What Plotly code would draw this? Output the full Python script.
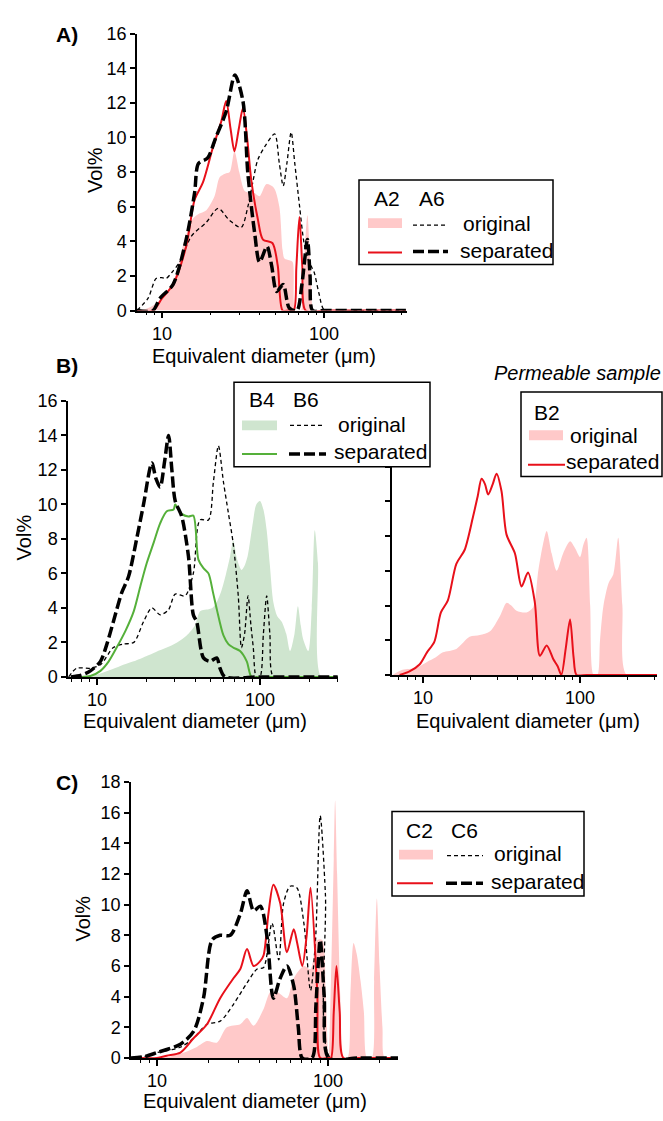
import plotly.graph_objects as go

W, H = 663, 1121
FONT = "Liberation Sans, Arial, sans-serif"

# ---------------- Panel A ----------------
a2_orig_x = [7.0, 8.0, 9.0, 10.0, 11.0, 12.3, 13.8, 15.5, 17.0, 18.8, 21.1, 22.7, 24.5, 26.2, 28.0, 30.0,
             32.4, 35.0, 37.0, 40.0, 44.0, 49.0, 53.0, 55.5, 57.0, 61.0, 64.0, 66.5, 72.0, 75.0, 79.0,
             83.0, 87.0, 100, 200, 320]
a2_orig_y = [0, 0.1, 0.35, 0.7, 1.2, 2.2, 4.1, 5.3, 5.6, 5.8, 6.6, 7.7, 7.9, 8.0, 9.2, 8.0,
             6.9, 6.8, 6.8, 6.6, 7.3, 7.1, 6.0, 3.5, 3.0, 2.9, 2.8, 0, 0, 2.5, 5.5,
             2.0, 0, 0, 0, 0]
a6_orig_x = [7.0, 8.2, 9.2, 10.0, 10.6, 11.5, 12.85, 15.2, 18.8, 22.2, 26.2, 30.8, 33.9, 36.5, 39.0,
             44.0, 49.6, 53.0, 56.0, 59.0, 62.7, 66.0, 70.7, 75.0, 79.4, 84.0, 87.0, 93.0, 101, 150, 320]
a6_orig_y = [0, 0.7, 1.85, 1.9, 1.85, 2.2, 2.8, 4.3, 5.1, 5.9, 5.2, 4.8, 6.0, 7.5, 8.7,
             9.6, 10.2, 8.5, 7.2, 8.5, 10.3, 8.5, 6.0, 4.0, 3.0, 2.5, 2.2, 1.0, 0, 0, 0]
a2_sep_x = [7.0, 8.8, 10.0, 11.7, 14.1, 15.9, 17.9, 20.6, 23.2, 24.9, 26.5, 28.0, 29.8, 31.6, 33.5,
            35.6, 39.0, 42.0, 48.0, 51.8, 55.5, 60.0, 65.0, 67.5, 70.5, 73.5, 77.0, 100, 200, 320]
a2_sep_y = [0, 0, 0.7, 1.5, 3.7, 6.4, 7.4, 9.4, 10.9, 12.1, 10.5, 9.2, 10.5, 11.7, 10.0,
            7.5, 5.3, 4.1, 3.9, 2.6, 0, 0, 0, 2.5, 5.4, 2.5, 0, 0, 0, 0]
a6_sep_x = [7.0, 8.8, 9.7, 11.7, 14.1, 15.9, 16.8, 19.1, 21.5, 24.9, 28.2, 31.6, 33.9, 37.3, 40.0,
            44.5, 47.5, 51.0, 56.0, 61.0, 68.0, 73.0, 79.0, 82.0, 85.0, 100, 200, 320]
a6_sep_y = [0, 0, 0.7, 1.5, 4.1, 6.8, 8.5, 8.8, 10.0, 11.5, 13.6, 12.1, 7.9, 4.5, 2.8,
            3.7, 2.6, 1.1, 1.5, 0.15, 0, 1.5, 4.1, 2.0, 0, 0, 0, 0]

# ---------------- Panel B (left) ----------------
b4_orig_x = [7.5, 9.0, 10.5, 12.5, 14.5, 16.8, 20.0, 23.0, 26.8, 31.0, 35.5, 40.0, 42.9, 47.0, 51.0,
             54.0, 58.0, 62.0, 65.6, 68.6, 72.5, 77.0, 80.0, 84.0, 90.0, 95.0, 100, 105, 110, 115,
             121, 128, 136, 145, 153, 163, 171, 178, 184, 198, 208, 217, 227, 238, 300]
b4_orig_y = [0, 0.05, 0.2, 0.45, 0.7, 0.9, 1.2, 1.45, 1.7, 2.0, 2.4, 3.0, 3.8, 3.9, 4.0,
             4.3, 5.0, 6.0, 7.0, 7.9, 6.8, 6.2, 6.4, 7.0, 8.8, 10.0, 10.2, 9.7, 8.5, 6.5,
             4.3, 3.5, 3.2, 2.5, 1.5, 2.5, 4.1, 3.0, 2.2, 1.5, 4.0, 8.5, 6.6, 0, 0]
b6_orig_x = [6.7, 7.5, 9.1, 10.5, 12.6, 14.5, 16.8, 19.3, 21.7, 24.4, 27.5, 30.2, 34.7, 39.0, 42.9,
             48.3, 51.8, 55.6, 59.7, 64.0, 68.6, 73.6, 77.0, 80.5, 84.5, 88.0, 91.0, 95.0, 100.0,
             105, 110, 115, 121, 150, 300]
b6_orig_y = [0, 0.5, 0.5, 0.7, 1.7, 1.9, 2.0, 3.2, 4.0, 3.6, 3.9, 4.8, 4.7, 6.0, 9.1,
             9.1, 11.3, 13.4, 11.3, 9.5, 7.7, 4.7, 1.7, 2.5, 4.7, 3.0, 1.7, 0, 0,
             2.5, 4.7, 2.5, 0, 0, 0]
b4_sep_x = [8.0, 9.1, 10.5, 11.8, 13.2, 15.0, 16.8, 18.5, 20.2, 22.3, 24.4, 26.8, 29.5, 30.2, 33.1,
            36.4, 39.0, 41.9, 45.0, 48.3, 51.5, 54.4, 59.7, 64.0, 68.6, 75.5, 83.0, 88.8, 100, 200, 300]
b4_sep_y = [0, 0.05, 0.35, 0.9, 1.7, 2.7, 3.8, 5.3, 6.6, 7.8, 8.9, 9.6, 9.7, 10.0, 9.45,
            9.3, 9.35, 6.8, 6.3, 6.0, 4.9, 3.9, 2.4, 1.9, 1.7, 1.5, 0.9, 0, 0, 0, 0]
b6_sep_x = [6.9, 8.0, 9.1, 10.5, 11.5, 12.6, 14.2, 15.6, 17.6, 19.3, 21.7, 23.0, 24.4, 26.0, 27.5,
            28.8, 30.2, 33.1, 36.4, 39.0, 40.9, 45.0, 49.4, 54.3, 56.9, 61.0, 100, 200, 300]
b6_sep_y = [0, 0.1, 0.35, 0.9, 1.9, 3.2, 4.9, 5.8, 8.1, 10.0, 12.4, 11.5, 11.0, 12.5, 14.0,
            12.0, 10.2, 9.3, 7.0, 3.6, 3.2, 1.1, 0.9, 1.1, 0.5, 0, 0, 0, 0]

# ---------------- Panel B (right, permeable sample) ----------------
b2_orig_x = [6.4, 7.4, 9.0, 10.6, 12.0, 13.4, 16.3, 19.8, 23.0, 26.6, 30.9, 34.0, 36.5, 39.4, 45.6,
             50.3, 54.2, 58.0, 61.3, 66.0, 71.0, 78.0, 86.4, 93.0, 100, 105, 110, 116, 122, 129,
             134, 141, 152, 163, 175, 186, 198, 300]
b2_orig_y = [0, 0.3, 0.4, 0.75, 1.0, 1.3, 1.5, 2.2, 2.3, 2.5, 3.4, 4.15, 4.0, 3.7, 3.6,
             3.9, 6.0, 7.5, 8.3, 7.0, 6.0, 7.0, 7.7, 7.3, 6.8, 7.5, 7.9, 4.0, 0, 0,
             2.0, 4.0, 5.3, 5.8, 7.9, 4.0, 0, 0]
b2_sep_x = [7.1, 8.2, 9.5, 10.6, 11.8, 13.0, 14.4, 16.3, 18.4, 20.8, 22.3, 23.6, 24.8, 26.0, 27.8,
            29.4, 31.6, 34.0, 38.5, 42.4, 46.6, 51.5, 55.5, 61.3, 67.6, 72.0, 76.0, 81.0, 86.4,
            91.0, 95.0, 110, 200, 310]
b2_sep_y = [0, 0.2, 0.6, 1.3, 1.9, 3.6, 4.3, 6.4, 7.2, 9.1, 10.3, 11.3, 11.0, 10.4, 11.0,
            11.6, 10.6, 8.1, 7.0, 5.1, 5.9, 4.2, 1.1, 1.7, 0.9, 0.5, 0, 1.5, 3.2,
            1.0, 0, 0, 0, 0]

# ---------------- Panel C ----------------
c2_orig_x = [10.0, 12.0, 14.4, 17.0, 19.6, 22.4, 25.6, 30.7, 33.6, 36.7, 42.0, 46.0, 50.4, 57.5, 63.0,
             72.2, 79.0, 86.5, 92.5, 97.0, 100.5, 104, 108, 110, 113, 118, 123, 130, 135, 141,
             147, 155, 162, 169, 180, 186, 193, 200, 208, 215, 260]
c2_orig_y = [0, 0.1, 0.35, 0.7, 1.1, 1.0, 2.0, 2.2, 2.6, 2.1, 3.2, 4.3, 4.3, 3.9, 5.2,
             6.0, 5.8, 7.7, 7.7, 4.0, 0, 5.0, 13.0, 16.8, 12.0, 4.0, 0, 0, 4.0, 7.5,
             6.8, 5.0, 3.0, 0, 0, 5.0, 10.4, 6.0, 2.0, 0, 0]
c6_orig_x = [7.0, 8.5, 10.0, 13.7, 16.4, 19.6, 23.4, 28.0, 33.6, 38.5, 42.0, 47.0, 51.5, 55.0, 60.0,
             65.7, 72.2, 79.0, 84.5, 90.0, 96.5, 103, 150, 260]
c6_orig_y = [0, 0.1, 0.35, 0.7, 1.3, 2.2, 2.4, 3.5, 4.9, 5.8, 5.9, 8.8, 6.4, 10.1, 11.2,
             11.1, 8.8, 4.4, 7.7, 15.8, 10.7, 0, 0, 0]
c2_sep_x = [8.0, 10.0, 11.4, 13.7, 16.4, 19.6, 23.4, 28.0, 30.7, 33.6, 36.7, 40.0, 42.0, 44.8, 47.9,
            52.5, 57.5, 63.0, 66.0, 70.7, 75.0, 79.0, 86.5, 90.0, 100, 104, 108, 112, 117, 123, 150, 270]
c2_sep_y = [0, 0, 0.15, 0.35, 1.3, 2.2, 3.9, 5.2, 5.8, 7.1, 6.0, 6.3, 6.7, 9.4, 11.3,
            10.1, 6.9, 8.4, 7.5, 6.0, 8.0, 11.1, 4.3, 0, 0, 0, 3.0, 6.0, 3.0, 0, 0, 0]
c6_sep_x = [7.0, 8.5, 10.0, 13.7, 16.4, 18.7, 21.0, 23.4, 26.8, 30.7, 33.6, 36.7, 40.2, 44.0, 47.9,
            52.5, 57.5, 63.0, 67.0, 70.7, 80.6, 85.0, 90.0, 95.0, 101, 150, 260]
c6_sep_y = [0, 0.1, 0.35, 0.9, 1.75, 3.9, 7.7, 8.0, 8.0, 9.4, 10.9, 9.6, 9.9, 7.9, 3.9,
            5.2, 6.0, 4.7, 2.0, 0, 0, 3.5, 7.7, 4.0, 0, 0, 0]

x_major_ticks = [10, 100]
x_major_text = ["10", "100"]
x_minor_ticks = [7, 8, 9, 20, 30, 40, 50, 60, 70, 80, 90, 200, 300]

PINK_FILL = "#FFC9C9"
RED = "#E8101A"
GREEN_FILL = "#CFE5CF"
GREEN = "#55B03A"
BLACK = "#000000"


def px(x):
    return x / W


def py(y):
    return 1 - y / H


fig = go.Figure()


def add_fill(x, y, color, ax):
    fig.add_trace(go.Scatter(x=x, y=y, mode="lines", fill="tozeroy", fillcolor=color,
                             line=dict(width=0, color=color, shape="spline", smoothing=0.8),
                             xaxis="x" + ax, yaxis="y" + ax, hoverinfo="skip", showlegend=False))


def add_line(x, y, color, width, dash, ax):
    fig.add_trace(go.Scatter(x=x, y=y, mode="lines",
                             line=dict(width=width, color=color, dash=dash, shape="spline", smoothing=0.8),
                             xaxis="x" + ax, yaxis="y" + ax, hoverinfo="skip", showlegend=False))


THIN_DASH = "4px,3px"
THICK_DASH = "11px,4px"

# Panel A (axis '')
add_fill(a2_orig_x, a2_orig_y, PINK_FILL, "")
add_line(a6_orig_x, a6_orig_y, BLACK, 1.3, THIN_DASH, "")
add_line(a2_sep_x, a2_sep_y, RED, 2, "solid", "")
add_line(a6_sep_x, a6_sep_y, BLACK, 3.5, THICK_DASH, "")

# Panel B left (axis '2')
add_fill(b4_orig_x, b4_orig_y, GREEN_FILL, "2")
add_line(b6_orig_x, b6_orig_y, BLACK, 1.3, THIN_DASH, "2")
add_line(b4_sep_x, b4_sep_y, GREEN, 2, "solid", "2")
add_line(b6_sep_x, b6_sep_y, BLACK, 3.5, THICK_DASH, "2")

# Panel B right (axis '3')
add_fill(b2_orig_x, b2_orig_y, PINK_FILL, "3")
add_line(b2_sep_x, b2_sep_y, RED, 2, "solid", "3")

# Panel C (axis '4')
add_fill(c2_orig_x, c2_orig_y, PINK_FILL, "4")
add_line(c6_orig_x, c6_orig_y, BLACK, 1.3, THIN_DASH, "4")
add_line(c2_sep_x, c2_sep_y, RED, 2, "solid", "4")
add_line(c6_sep_x, c6_sep_y, BLACK, 3.5, THICK_DASH, "4")

common = dict(showline=True, linecolor="black", linewidth=1.5, ticks="outside", tickcolor="black",
              tickwidth=1.5, showgrid=False, zeroline=False,
              tickfont=dict(family=FONT, size=18, color="black"))


def xaxis_cfg(x0, x1, rng, anchor):
    d = dict(common)
    d.update(type="log", range=rng, domain=[px(x0), px(x1)], anchor=anchor,
             tickmode="array", tickvals=x_major_ticks, ticktext=x_major_text, ticklen=6,
             minor=dict(tickmode="array", tickvals=x_minor_ticks, ticks="outside", ticklen=3,
                        tickwidth=1.2, tickcolor="black"))
    return d


def yaxis_cfg(ytop, ybot, ymax, anchor, labels=True):
    d = dict(common)
    d.update(range=[0, ymax], domain=[py(ybot), py(ytop)], anchor=anchor, tick0=0, dtick=2,
             ticklen=5, showticklabels=labels)
    return d


fig.update_layout(
    width=W, height=H, margin=dict(l=0, r=0, t=0, b=0),
    paper_bgcolor="white", plot_bgcolor="rgba(0,0,0,0)", showlegend=False,
    font=dict(family=FONT, color="black"),
    xaxis=xaxis_cfg(137, 407, [0.846, 2.512], "y"),
    yaxis=yaxis_cfg(24, 306, 16, "x"),
    xaxis2=xaxis_cfg(68, 338, [0.822, 2.479], "y2"),
    yaxis2=yaxis_cfg(398, 679, 16, "x2"),
    xaxis3=xaxis_cfg(392, 657, [0.8025, 2.49], "y3"),
    yaxis3=yaxis_cfg(465, 677, 12, "x3", labels=False),
    xaxis4=xaxis_cfg(131, 398, [0.848, 2.409], "y4"),
    yaxis4=yaxis_cfg(786, 1067, 18, "x4"),
)

ann = []


def text(x, y, s, size=21, anchor="center", angle=0, bold=False, italic=False):
    if bold:
        s = "<b>" + s + "</b>"
    if italic:
        s = "<i>" + s + "</i>"
    ann.append(dict(x=px(x), y=py(y), xref="paper", yref="paper", text=s, showarrow=False,
                    xanchor=anchor, yanchor="middle", textangle=angle, borderpad=0,
                    font=dict(family=FONT, size=size, color="black")))


# panel letters
text(67, 25, "A)", size=21, bold=True)
text(67, 362, "B)", size=21, bold=True)
text(67, 787, "C)", size=21, bold=True)

# axis titles
XT = "Equivalent diameter (\u03bcm)"
text(264, 352, XT, size=20)
text(195, 724, XT, size=20)
text(528, 724, XT, size=20)
text(255, 1111, XT, size=20)
text(95, 163, "Vol%", size=20, angle=-90)
text(24, 537, "Vol%", size=20, angle=-90)
text(83, 925, "Vol%", size=20, angle=-90)

text(662, 370, "Permeable sample", size=20, anchor="right", italic=True)

shapes = []


def box(x0, y0, x1, y1):
    shapes.append(dict(type="rect", xref="paper", yref="paper", x0=px(x0), x1=px(x1), y0=py(y1), y1=py(y0),
                       line=dict(color="black", width=1.5), fillcolor="white", layer="above"))


def swatch(x0, y0, x1, y1, color):
    shapes.append(dict(type="rect", xref="paper", yref="paper", x0=px(x0), x1=px(x1), y0=py(y1), y1=py(y0),
                       line=dict(width=0), fillcolor=color, layer="above"))


def seg(x0, x1, y, color, width, dash):
    shapes.append(dict(type="line", xref="paper", yref="paper", x0=px(x0), x1=px(x1), y0=py(y), y1=py(y),
                       line=dict(color=color, width=width, dash=dash), layer="above"))


# Legend A
box(359, 173, 553, 259)
text(373, 192, "A2", anchor="left")
text(418, 192, "A6", anchor="left")
swatch(368, 212, 402, 222, PINK_FILL)
seg(413, 448, 219, BLACK, 1.3, THIN_DASH)
text(462, 217, "original", anchor="left")
seg(368, 402, 247, RED, 2, "solid")
seg(413, 448, 246, BLACK, 3.5, THICK_DASH)
text(459, 245, "separated", anchor="left")

# Legend B left
box(234, 379, 430, 465)
text(248, 397, "B4", anchor="left")
text(292, 397, "B6", anchor="left")
swatch(242, 418, 277, 428, GREEN_FILL)
seg(290, 325, 423, BLACK, 1.3, THIN_DASH)
text(337, 422, "original", anchor="left")
seg(242, 277, 452, GREEN, 2, "solid")
seg(289, 326, 452, BLACK, 3.5, THICK_DASH)
text(333, 450, "separated", anchor="left")

# Legend B right
box(521, 389, 662, 475)
text(533, 410, "B2", anchor="left")
swatch(529, 428, 563, 438, PINK_FILL)
text(569, 433, "original", anchor="left")
seg(528, 565, 463, RED, 2, "solid")
text(565, 460, "separated", anchor="left")

# Legend C
box(392, 816, 584, 902)
text(405, 835, "C2", anchor="left")
text(450, 835, "C6", anchor="left")
swatch(399, 855, 433, 865, PINK_FILL)
seg(447, 483, 861, BLACK, 1.3, THIN_DASH)
text(493, 859, "original", anchor="left")
seg(397, 433, 889, RED, 2, "solid")
seg(446, 483, 889, BLACK, 3.5, THICK_DASH)
text(490, 887, "separated", anchor="left")

fig.update_layout(annotations=ann, shapes=shapes)

fig.write_html("out.html")
